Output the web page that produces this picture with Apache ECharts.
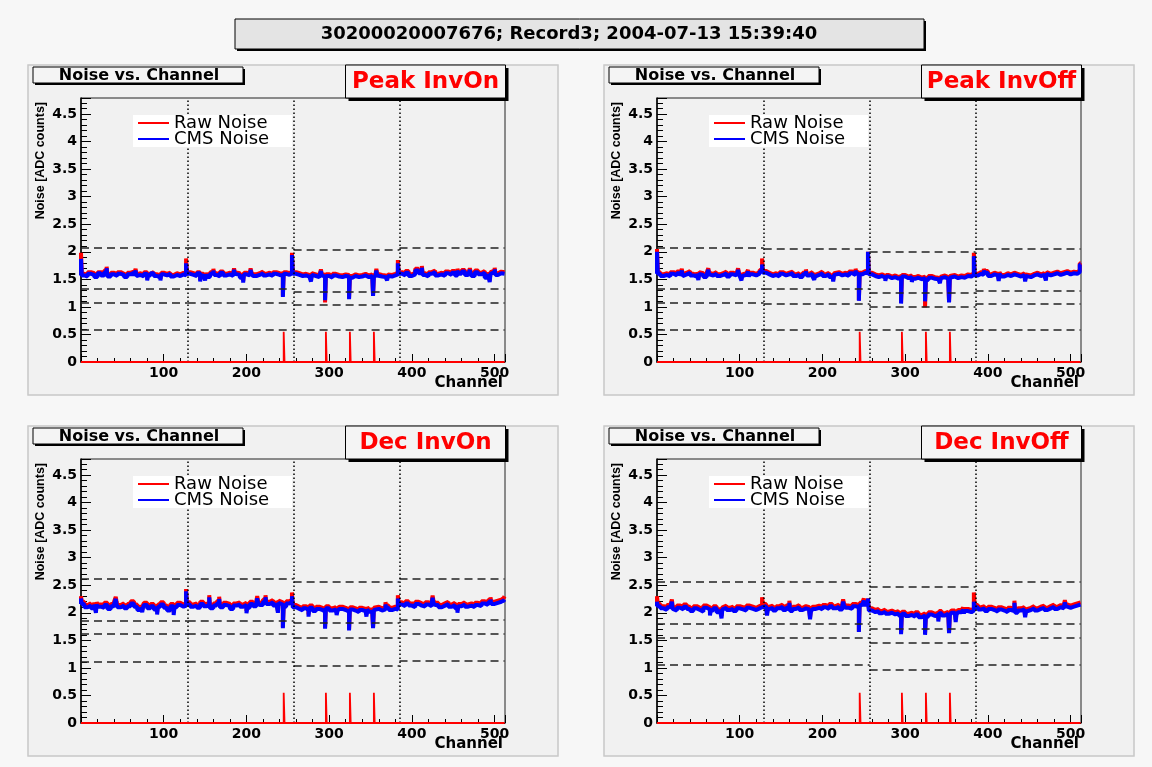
<!DOCTYPE html>
<html>
<head>
<meta charset="utf-8">
<script src="https://cdn.jsdelivr.net/npm/echarts@6/dist/echarts.min.js"></script>
<style>
  html, body { margin: 0; padding: 0; background: #f7f7f7; }
  #chart { width: 1152px; height: 767px; }
</style>
</head>
<body>
<div id="chart"></div>
<script>
// noise per 4-channel block (128 blocks = 512 channels), one array per APV run
const peakOnCms = [
  1.57,1.55,1.60,1.58,1.54,1.61,1.57,1.63,1.55,1.59,1.56,1.60,1.58,1.54,1.59,1.62,
  1.56,1.58,1.55,1.60,1.57,1.61,1.56,1.53,1.59,1.57,1.60,1.55,1.58,1.56,1.59,1.57,
  1.60,1.58,1.56,1.61,1.57,1.59,1.54,1.60,1.58,1.55,1.62,1.57,1.59,1.56,1.60,1.58,
  1.53,1.59,1.57,1.60,1.56,1.58,1.61,1.57,1.59,1.56,1.60,1.58,1.57,1.60,1.58,1.61,
  1.60,1.58,1.56,1.57,1.55,1.58,1.56,1.54,1.57,1.55,1.56,1.53,1.57,1.55,1.54,1.56,
  1.55,1.53,1.56,1.54,1.55,1.57,1.54,1.56,1.53,1.57,1.55,1.54,1.56,1.55,1.57,1.59,
  1.60,1.57,1.62,1.56,1.59,1.66,1.61,1.58,1.55,1.60,1.63,1.57,1.59,1.56,1.61,1.58,
  1.62,1.57,1.60,1.64,1.58,1.61,1.56,1.63,1.59,1.62,1.53,1.60,1.63,1.58,1.61,1.60
];
const peakOnRaw = [
  1.60,1.58,1.63,1.61,1.57,1.63,1.60,1.66,1.58,1.62,1.59,1.63,1.60,1.57,1.62,1.64,
  1.59,1.61,1.58,1.63,1.60,1.63,1.59,1.56,1.62,1.60,1.62,1.58,1.61,1.59,1.62,1.60,
  1.63,1.61,1.59,1.63,1.60,1.62,1.57,1.63,1.61,1.58,1.64,1.60,1.62,1.59,1.63,1.61,
  1.56,1.62,1.60,1.63,1.59,1.61,1.64,1.60,1.62,1.59,1.63,1.61,1.60,1.63,1.61,1.64,
  1.63,1.61,1.59,1.60,1.58,1.61,1.59,1.57,1.60,1.58,1.59,1.56,1.60,1.58,1.57,1.59,
  1.58,1.56,1.59,1.57,1.58,1.60,1.57,1.59,1.56,1.60,1.58,1.57,1.59,1.58,1.60,1.62,
  1.63,1.60,1.65,1.59,1.62,1.69,1.64,1.61,1.58,1.63,1.66,1.60,1.62,1.59,1.64,1.61,
  1.65,1.60,1.63,1.67,1.61,1.64,1.59,1.66,1.62,1.65,1.56,1.63,1.66,1.61,1.64,1.63
];
const peakOffCms = [
  1.60,1.56,1.58,1.55,1.60,1.57,1.61,1.56,1.59,1.62,1.57,1.55,1.60,1.58,1.54,1.59,
  1.57,1.60,1.56,1.58,1.61,1.55,1.59,1.57,1.60,1.56,1.58,1.55,1.59,1.57,1.60,1.64,
  1.62,1.59,1.56,1.58,1.55,1.60,1.57,1.59,1.61,1.56,1.58,1.54,1.59,1.57,1.60,1.55,
  1.58,1.61,1.56,1.59,1.54,1.58,1.60,1.57,1.59,1.56,1.61,1.58,1.60,1.59,1.62,1.61,
  1.59,1.56,1.54,1.56,1.53,1.55,1.52,1.54,1.51,1.53,1.55,1.52,1.54,1.51,1.53,1.50,
  1.52,1.49,1.53,1.51,1.50,1.52,1.54,1.51,1.53,1.55,1.52,1.54,1.53,1.56,1.55,1.58,
  1.57,1.60,1.58,1.62,1.56,1.59,1.57,1.60,1.55,1.58,1.56,1.59,1.57,1.55,1.58,1.56,
  1.54,1.57,1.59,1.56,1.58,1.60,1.57,1.59,1.61,1.58,1.60,1.62,1.59,1.61,1.60,1.63
];
const peakOffRaw = [
  1.63,1.59,1.61,1.58,1.63,1.60,1.64,1.59,1.62,1.65,1.60,1.58,1.63,1.61,1.57,1.62,
  1.60,1.63,1.59,1.61,1.64,1.58,1.62,1.60,1.63,1.59,1.61,1.58,1.62,1.60,1.63,1.67,
  1.65,1.62,1.59,1.61,1.58,1.63,1.60,1.62,1.64,1.59,1.61,1.57,1.62,1.60,1.63,1.58,
  1.61,1.64,1.59,1.62,1.57,1.61,1.63,1.60,1.62,1.59,1.64,1.61,1.63,1.62,1.65,1.64,
  1.62,1.59,1.57,1.59,1.56,1.58,1.55,1.57,1.54,1.56,1.58,1.55,1.57,1.54,1.56,1.53,
  1.55,1.52,1.56,1.54,1.53,1.55,1.57,1.54,1.56,1.58,1.55,1.57,1.56,1.59,1.58,1.61,
  1.60,1.63,1.61,1.65,1.59,1.62,1.60,1.63,1.58,1.61,1.59,1.62,1.60,1.58,1.61,1.59,
  1.57,1.60,1.62,1.59,1.61,1.63,1.60,1.62,1.64,1.61,1.63,1.65,1.62,1.64,1.63,1.66
];
const decOnCms = [
  2.16,2.10,2.13,2.08,2.15,2.11,2.09,2.14,2.07,2.12,2.16,2.10,2.13,2.08,2.12,2.17,
  2.11,2.05,2.10,2.14,2.08,2.12,2.06,2.11,2.15,2.09,2.04,2.12,2.10,2.14,2.11,2.13,
  2.15,2.11,2.13,2.09,2.16,2.12,2.14,2.08,2.13,2.17,2.10,2.14,2.12,2.07,2.13,2.15,
  2.11,2.14,2.09,2.16,2.12,2.18,2.14,2.20,2.16,2.19,2.13,2.18,2.15,2.11,2.17,2.20,
  2.10,2.07,2.04,2.08,2.05,2.09,2.03,2.07,2.05,2.02,2.08,2.04,2.06,2.03,2.07,2.05,
  2.02,2.06,2.04,2.01,2.05,2.03,2.06,2.02,2.05,2.07,2.04,2.06,2.09,2.05,2.07,2.06,
  2.15,2.12,2.17,2.13,2.10,2.16,2.13,2.11,2.15,2.12,2.18,2.14,2.10,2.13,2.16,2.11,
  2.14,2.08,2.12,2.15,2.11,2.13,2.10,2.14,2.12,2.17,2.14,2.19,2.16,2.18,2.20,2.22
];
const decOnRaw = [
  2.20,2.14,2.17,2.12,2.19,2.15,2.13,2.18,2.11,2.16,2.20,2.14,2.17,2.12,2.16,2.21,
  2.15,2.09,2.14,2.18,2.12,2.16,2.10,2.15,2.19,2.13,2.08,2.16,2.14,2.18,2.15,2.17,
  2.19,2.15,2.17,2.13,2.20,2.16,2.18,2.12,2.17,2.21,2.14,2.18,2.16,2.11,2.17,2.19,
  2.15,2.18,2.13,2.20,2.16,2.22,2.18,2.24,2.20,2.23,2.17,2.22,2.19,2.15,2.21,2.24,
  2.14,2.11,2.08,2.12,2.09,2.13,2.07,2.11,2.09,2.06,2.12,2.08,2.10,2.07,2.11,2.09,
  2.06,2.10,2.08,2.05,2.09,2.07,2.10,2.06,2.09,2.11,2.08,2.10,2.13,2.09,2.11,2.10,
  2.19,2.16,2.21,2.17,2.14,2.20,2.17,2.15,2.19,2.16,2.22,2.18,2.14,2.17,2.20,2.15,
  2.18,2.12,2.16,2.19,2.15,2.17,2.14,2.18,2.16,2.21,2.18,2.23,2.20,2.22,2.24,2.27
];
const decOffCms = [
  2.12,2.08,2.05,2.10,2.07,2.04,2.09,2.06,2.11,2.07,2.03,2.08,2.05,2.02,2.09,2.06,
  2.04,2.08,2.01,2.06,2.09,2.05,2.07,2.03,2.08,2.06,2.04,2.09,2.07,2.05,2.08,2.10,
  2.12,2.06,2.09,2.04,2.08,2.11,2.05,2.09,2.03,2.07,2.10,2.05,2.08,2.06,2.02,2.07,
  2.09,2.06,2.10,2.07,2.12,2.08,2.11,2.06,2.13,2.09,2.07,2.12,2.10,2.14,2.12,2.16,
  2.04,2.01,2.03,1.99,2.02,1.98,2.00,1.97,1.99,1.95,1.98,1.94,1.96,1.93,1.97,1.92,
  1.95,1.93,1.97,1.94,1.96,1.99,1.95,1.98,1.96,2.00,1.97,2.01,1.99,2.03,2.01,2.04,
  2.10,2.06,2.08,2.03,2.07,2.05,2.02,2.06,2.04,2.01,2.05,2.03,2.00,2.04,2.06,2.02,
  2.05,2.08,2.04,2.07,2.09,2.05,2.08,2.11,2.07,2.10,2.08,2.12,2.09,2.11,2.13,2.15
];
const decOffRaw = [
  2.16,2.12,2.09,2.14,2.11,2.08,2.13,2.10,2.15,2.11,2.07,2.12,2.09,2.06,2.13,2.10,
  2.08,2.12,2.05,2.10,2.13,2.09,2.11,2.07,2.12,2.10,2.08,2.13,2.11,2.09,2.12,2.14,
  2.16,2.10,2.13,2.08,2.12,2.15,2.09,2.13,2.07,2.11,2.14,2.09,2.12,2.10,2.06,2.11,
  2.13,2.10,2.14,2.11,2.16,2.12,2.15,2.10,2.17,2.13,2.11,2.16,2.14,2.18,2.16,2.20,
  2.08,2.05,2.07,2.03,2.06,2.02,2.04,2.01,2.03,1.99,2.02,1.98,2.00,1.97,2.01,1.96,
  1.99,1.97,2.01,1.98,2.00,2.03,1.99,2.02,2.00,2.04,2.01,2.05,2.03,2.07,2.05,2.08,
  2.14,2.10,2.12,2.07,2.11,2.09,2.06,2.10,2.08,2.05,2.09,2.07,2.04,2.08,2.10,2.06,
  2.09,2.12,2.08,2.11,2.13,2.09,2.12,2.15,2.11,2.14,2.12,2.16,2.13,2.15,2.17,2.19
];

// single channels that stick out of the band: [channel, noise]
const peakOnCmsSpikes = [
  [0,1.87],[31,1.70],[66,1.66],[80,1.48],[96,1.48],[127,1.79],[144,1.46],[150,1.48],[160,1.66],
  [185,1.67],[196,1.44],[205,1.67],[244,1.18],[255,1.94],[278,1.46],[290,1.65],[295,1.12],
  [324,1.14],[353,1.20],[357,1.66],[370,1.48],[383,1.79],[412,1.71],[455,1.66],[470,1.67],
  [494,1.45],[500,1.68]
];
const peakOnRawSpikes = [
  [0,1.98],[31,1.73],[66,1.69],[80,1.50],[96,1.51],[127,1.88],[144,1.49],[150,1.51],[160,1.69],
  [185,1.70],[196,1.47],[205,1.70],[244,1.20],[255,1.98],[278,1.49],[290,1.68],[295,1.08],
  [324,1.16],[353,1.22],[357,1.69],[370,1.51],[383,1.85],[412,1.74],[455,1.69],[470,1.70],
  [494,1.48],[500,1.71]
];
const peakOffCmsSpikes = [
  [0,2.00],[30,1.66],[50,1.49],[62,1.67],[98,1.67],[102,1.48],[110,1.64],[127,1.77],
  [180,1.65],[190,1.49],[213,1.46],[240,1.66],[244,1.11],[255,2.00],[276,1.47],[295,1.06],
  [308,1.45],[324,1.10],[342,1.43],[353,1.08],[383,1.92],[395,1.66],[413,1.47],[445,1.46],
  [470,1.48],[511,1.77]
];
const peakOffRawSpikes = [
  [0,2.05],[30,1.69],[50,1.52],[62,1.70],[98,1.70],[102,1.51],[110,1.67],[127,1.88],
  [180,1.68],[190,1.52],[213,1.49],[240,1.69],[244,1.12],[255,2.00],[276,1.50],[295,1.07],
  [308,1.48],[324,0.99],[342,1.46],[353,1.09],[383,1.98],[395,1.69],[413,1.50],[445,1.49],
  [470,1.51],[511,1.79]
];
const decOnCmsSpikes = [
  [0,2.26],[18,2.00],[42,2.25],[74,2.01],[92,1.97],[112,1.96],[127,2.39],[155,2.28],[167,2.25],
  [200,1.99],[213,2.26],[223,2.28],[238,2.00],[244,1.72],[255,2.30],[275,1.93],[295,1.71],
  [309,1.96],[324,1.68],[345,1.93],[353,1.72],[368,2.15],[383,2.26],[425,2.27],[455,2.00],
  [495,2.24],[511,2.24]
];
const decOnRawSpikes = [
  [0,2.30],[18,2.04],[42,2.29],[74,2.05],[92,2.01],[112,2.00],[127,2.43],[155,2.32],[167,2.29],
  [200,2.03],[213,2.30],[223,2.32],[238,2.04],[244,1.74],[255,2.37],[275,1.97],[295,1.73],
  [309,2.00],[324,1.70],[345,1.97],[353,1.74],[368,2.19],[383,2.32],[425,2.31],[455,2.04],
  [495,2.28],[511,2.30]
];
const decOffCmsSpikes = [
  [0,2.20],[18,2.20],[64,1.95],[78,1.90],[127,2.13],[133,1.95],[160,2.18],[185,1.88],
  [225,2.20],[244,1.65],[250,2.22],[255,2.26],[295,1.61],[324,1.60],[340,1.84],[353,1.63],
  [361,1.83],[370,2.05],[383,2.20],[432,2.18],[445,1.92],[493,2.19]
];
const decOffRawSpikes = [
  [0,2.30],[18,2.24],[64,1.99],[78,1.94],[127,2.28],[133,1.99],[160,2.22],[185,1.92],
  [225,2.24],[244,1.66],[250,2.26],[255,2.26],[295,1.63],[324,1.62],[340,1.88],[353,1.65],
  [361,1.87],[370,2.09],[383,2.37],[432,2.22],[445,1.96],[493,2.23]
];

// flagged strips
const badStrips = [245, 296, 325, 354];
const flagHeight = 0.55;

// APV boundaries and cut levels per APV (4 levels x 4 APVs)
const apvEdges = [129, 257, 385];
const segBounds = [0, 129, 257, 385, 512];
const peakOnCuts = [[2.08,2.08,2.04,2.08],[1.32,1.32,1.28,1.33],[1.08,1.08,1.03,1.08],[0.59,0.59,0.59,0.59]];
const peakOffCuts = [[2.07,2.06,2.00,2.05],[1.32,1.32,1.26,1.30],[1.08,1.06,1.01,1.05],[0.59,0.59,0.59,0.59]];
const decOnCuts = [[2.62,2.62,2.56,2.62],[1.86,1.86,1.82,1.88],[1.62,1.62,1.55,1.62],[1.12,1.12,1.04,1.13]];
const decOffCuts = [[2.56,2.56,2.47,2.56],[1.80,1.80,1.71,1.80],[1.55,1.55,1.46,1.55],[1.05,1.05,0.97,1.05]];

const panelLabels = ['Peak InvOn', 'Peak InvOff', 'Dec InvOn', 'Dec InvOff'];
const headerText = '30200020007676; Record3; 2004-07-13 15:39:40';

const panels = [
  { label: panelLabels[0], cms: peakOnCms, raw: peakOnRaw, cmsSp: peakOnCmsSpikes, rawSp: peakOnRawSpikes, cuts: peakOnCuts, dx: 0, dy: 0 },
  { label: panelLabels[1], cms: peakOffCms, raw: peakOffRaw, cmsSp: peakOffCmsSpikes, rawSp: peakOffRawSpikes, cuts: peakOffCuts, dx: 576, dy: 0 },
  { label: panelLabels[2], cms: decOnCms, raw: decOnRaw, cmsSp: decOnCmsSpikes, rawSp: decOnRawSpikes, cuts: decOnCuts, dx: 0, dy: 361 },
  { label: panelLabels[3], cms: decOffCms, raw: decOffRaw, cmsSp: decOffCmsSpikes, rawSp: decOffRawSpikes, cuts: decOffCuts, dx: 576, dy: 361 },
];

// histogram-like step points from block values plus single-channel entries
function toSteps(blocks, spikes) {
  const pts = blocks.map((v, i) => [i * 4, v]);
  spikes.forEach(([c, v]) => {
    pts.push([c, v]);
    const next = blocks[Math.floor((c + 1) / 4)];
    pts.push([c + 1, next === undefined ? v : next]);
  });
  pts.sort((a, b) => a[0] - b[0]);
  pts.push([512, pts[pts.length - 1][1]]);
  return pts;
}

function flagSteps(strips, h) {
  const pts = [[0, 0]];
  strips.forEach((c) => pts.push([c, h], [c + 1, 0]));
  pts.push([512, 0]);
  return pts;
}

const labelFont = { fontFamily: 'DejaVu Sans', fontWeight: 'bold', fontSize: 14, color: '#000' };
const center = { align: 'center', verticalAlign: 'middle', textAlign: 'center', textVerticalAlign: 'middle' };

const grids = [];
const xAxes = [];
const yAxes = [];
const series = [];
const graphics = [
  { type: 'rect', z: 50, shape: { x: 237, y: 21, width: 689, height: 30 }, style: { fill: '#000' } },
  { type: 'rect', z: 51, shape: { x: 235, y: 19, width: 689, height: 30 }, style: { fill: '#e4e4e4', stroke: '#000', lineWidth: 1 } },
  { type: 'text', z: 52, x: 569, y: 34, style: { text: headerText, font: 'bold 18px "DejaVu Sans"', fill: '#000', ...center } },
];

panels.forEach((p, i) => {
  const { dx, dy } = p;
  grids.push({ left: 81 + dx, top: 98 + dy, width: 424, height: 264, show: true, borderColor: '#222', borderWidth: 1, backgroundColor: 'transparent' });
  xAxes.push({
    type: 'value', gridIndex: i, min: 0, max: 512.5, interval: 100,
    axisLine: { lineStyle: { color: '#000', width: 1 } },
    axisTick: { inside: true, length: 8, lineStyle: { color: '#000' } },
    minorTick: { show: true, splitNumber: 5, length: 4, lineStyle: { color: '#000' } },
    splitLine: { show: false },
    axisLabel: { ...labelFont, margin: 4, formatter: (v) => (v > 0 && v % 100 === 0 ? String(v) : '') },
  });
  yAxes.push({
    type: 'value', gridIndex: i, min: 0, max: 4.79, interval: 0.5,
    axisLine: { lineStyle: { color: '#000', width: 1.5 } },
    axisTick: { inside: true, length: 10, lineStyle: { color: '#000' } },
    minorTick: { show: true, splitNumber: 5, length: 6, lineStyle: { color: '#000' } },
    splitLine: { show: false },
    axisLabel: { ...labelFont, margin: 4, formatter: (v) => (Math.round(v * 10) % 5 === 0 ? String(v) : '') },
  });

  const marks = [];
  p.cuts.forEach((levels) => levels.forEach((v, s) => {
    marks.push([{ coord: [segBounds[s], v] }, { coord: [segBounds[s + 1], v] }]);
  }));
  apvEdges.forEach((x) => marks.push({ xAxis: x, lineStyle: { type: [1.5, 2.5], width: 1.5, color: '#000' } }));

  series.push({
    name: 'Raw Noise', type: 'line', xAxisIndex: i, yAxisIndex: i, step: 'end', showSymbol: false, symbol: 'none',
    data: toSteps(p.raw, p.rawSp), lineStyle: { color: '#ff0000', width: 4 }, z: 3, silent: true,
  });
  series.push({
    name: 'CMS Noise', type: 'line', xAxisIndex: i, yAxisIndex: i, step: 'end', showSymbol: false, symbol: 'none',
    data: toSteps(p.cms, p.cmsSp), lineStyle: { color: '#0000ff', width: 4 }, z: 4, silent: true,
  });
  series.push({
    name: 'Flags', type: 'line', xAxisIndex: i, yAxisIndex: i, step: 'end', showSymbol: false, symbol: 'none',
    data: flagSteps(badStrips, flagHeight), lineStyle: { color: '#ff0000', width: 1.8 }, z: 5, silent: true,
    markLine: {
      silent: true, symbol: ['none', 'none'], label: { show: false }, animation: false,
      lineStyle: { type: [8, 5], width: 1.5, color: '#222' },
      data: marks,
    },
  });

  graphics.push(
    { type: 'rect', z: -10, shape: { x: 28 + dx, y: 65 + dy, width: 530, height: 330 }, style: { fill: '#f1f1f1', stroke: '#c8c8c8', lineWidth: 1.5 } },
    // "Noise vs. Channel" pave
    { type: 'rect', z: 60, shape: { x: 35 + dx, y: 69 + dy, width: 210, height: 16 }, style: { fill: '#000' } },
    { type: 'rect', z: 61, shape: { x: 33 + dx, y: 67 + dy, width: 210, height: 16 }, style: { fill: '#f4f4f4', stroke: '#000', lineWidth: 1 } },
    { type: 'text', z: 62, x: 139 + dx, y: 75.5 + dy, style: { text: 'Noise vs. Channel', font: 'bold 16px "DejaVu Sans"', fill: '#000', ...center } },
    // mode label pave
    { type: 'rect', z: 60, shape: { x: 348.5 + dx, y: 68 + dy, width: 160, height: 33 }, style: { fill: '#000' } },
    { type: 'rect', z: 61, shape: { x: 345.5 + dx, y: 65 + dy, width: 160, height: 33 }, style: { fill: '#f4f4f4', stroke: '#000', lineWidth: 1 } },
    { type: 'text', z: 62, x: 425.5 + dx, y: 82 + dy, style: { text: p.label, font: 'bold 23px "DejaVu Sans"', fill: '#ff0000', ...center } },
    // legend
    { type: 'rect', z: 60, shape: { x: 133 + dx, y: 115 + dy, width: 159, height: 32 }, style: { fill: '#ffffff' } },
    { type: 'line', z: 61, shape: { x1: 138 + dx, y1: 123 + dy, x2: 169 + dx, y2: 123 + dy }, style: { stroke: '#ff0000', lineWidth: 2 } },
    { type: 'line', z: 61, shape: { x1: 138 + dx, y1: 139 + dy, x2: 169 + dx, y2: 139 + dy }, style: { stroke: '#0000ff', lineWidth: 2 } },
    { type: 'text', z: 62, x: 174 + dx, y: 123 + dy, style: { text: 'Raw Noise', font: '18px "DejaVu Sans"', fill: '#000', align: 'left', verticalAlign: 'middle', textAlign: 'left', textVerticalAlign: 'middle' } },
    { type: 'text', z: 62, x: 174 + dx, y: 139 + dy, style: { text: 'CMS Noise', font: '18px "DejaVu Sans"', fill: '#000', align: 'left', verticalAlign: 'middle', textAlign: 'left', textVerticalAlign: 'middle' } },
    // axis titles
    { type: 'text', z: 62, x: 41 + dx, y: 102 + dy, rotation: Math.PI / 2, style: { text: 'Noise [ADC counts]', font: 'bold 12.5px "Liberation Sans"', fill: '#000', align: 'right', verticalAlign: 'middle', textAlign: 'right', textVerticalAlign: 'middle' } },
    { type: 'text', z: 62, x: 503 + dx, y: 383.5 + dy, style: { text: 'Channel', font: 'bold 15px "DejaVu Sans"', fill: '#000', align: 'right', verticalAlign: 'middle', textAlign: 'right', textVerticalAlign: 'middle' } },
  );
});

const chart = echarts.init(document.getElementById('chart'));
chart.setOption({
  animation: false,
  backgroundColor: '#f7f7f7',
  grid: grids,
  xAxis: xAxes,
  yAxis: yAxes,
  series,
  graphic: graphics,
});
</script>
</body>
</html>
